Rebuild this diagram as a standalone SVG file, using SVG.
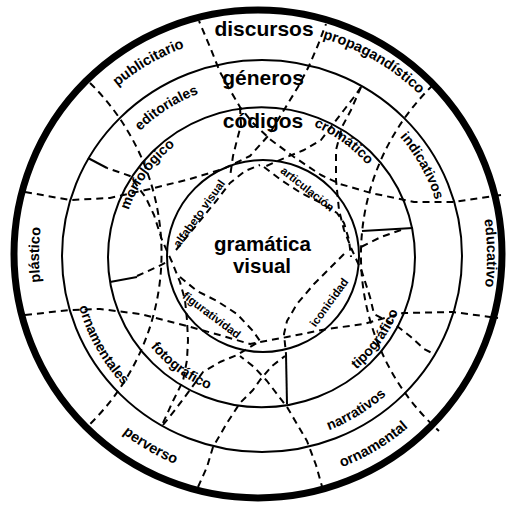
<svg xmlns="http://www.w3.org/2000/svg" width="509" height="507" viewBox="0 0 509 507">
<style>
.c{fill:none;stroke:#000;stroke-width:2}
.d{fill:none;stroke:#000;stroke-width:2;stroke-dasharray:7 5;stroke-linejoin:round}
.s{fill:none;stroke:#000;stroke-width:2}
.t{font-family:"Liberation Sans",Arial,Helvetica,sans-serif;font-weight:bold;fill:#000}
.big{font-size:21px;text-anchor:middle}
.m{font-size:14px}
.o{font-size:14.5px}
.n{font-size:11.5px;text-anchor:middle}
</style>
<defs>
<path id="cw222" d="M39,256 A222,222 0 1 1 483,256 A222,222 0 1 1 39,256"/>
<path id="cw226" d="M35,256 A226,226 0 1 1 487,256 A226,226 0 1 1 35,256"/>
<path id="cw174" d="M87,256 A174,174 0 1 1 435,256 A174,174 0 1 1 87,256"/>
<path id="cw183" d="M78,256 A183,183 0 1 1 444,256 A183,183 0 1 1 78,256"/>
<path id="cw140" d="M121,256 A140,140 0 1 1 401,256 A140,140 0 1 1 121,256"/>
<path id="ccw225" d="M36,256 A225,225 0 1 0 486,256 A225,225 0 1 0 36,256"/>
<path id="ccw226" d="M35,256 A226,226 0 1 0 487,256 A226,226 0 1 0 35,256"/>
<path id="ccw189" d="M72,256 A189,189 0 1 0 450,256 A189,189 0 1 0 72,256"/>
<path id="ccw187" d="M74,256 A187,187 0 1 0 448,256 A187,187 0 1 0 74,256"/>
<path id="ccw148" d="M113,256 A148,148 0 1 0 409,256 A148,148 0 1 0 113,256"/>
<path id="ccw143" d="M118,256 A143,143 0 1 0 404,256 A143,143 0 1 0 118,256"/>
</defs>
<rect width="509" height="507" fill="#fff"/>
<g id="rings">
<circle cx="258" cy="254" r="244" fill="none" stroke="#000" stroke-width="7"/>
<ellipse class="c" cx="262" cy="256" rx="200" ry="196"/>
<ellipse class="c" cx="261.5" cy="257.3" rx="153.5" ry="150"/>
<circle class="c" cx="263" cy="256" r="96"/>
</g>
<g id="connectors">
<path class="d" d="M25,192 L70,200 L110,198 L150,189 L190,179 L223,169 L250,156 L268,136 L284,110 L298,87 L309,66 L318,45 L326,24"/>
<path class="d" d="M501,195 L454,202 L414,202 L371,193 L340,184 L321,175 L294,157 L271,140 L252,122 L240,107 L230,90 L220,72 L210,47 L199,21"/>
<path class="d" d="M25,315 L70,310 L100,309 L140,314 L187,326 L223,336 L250,344 L287,337 L327,329 L364,324 L381,319 L403,313 L453,312 L498,318"/>
<path class="d" d="M198,487 L207,467 L213,447 L227,423 L240,403 L253,390 L260,380 L272,366 L285,356"/>
<path class="d" d="M323,490 L316,465 L307,441 L297,424 L287,407 L277,394 L267,381 L254,367 L240,356"/>
<path class="d" d="M90,83 A239,239 0 0 1 88,426"/>
<path class="d" d="M433,85 A237,237 0 0 0 439,431"/>
<path class="d" d="M361,87 L351,110 L342,127 L336,150 L336,180 L339,210 L344,230 L352,250 L362,272 L370,297 L374,314 L397,326 L411,337 L424,349 L434,354"/>
<path class="d" d="M163,423 L173,401 L183,381 L187,360 L188,340 L187,320 L185,300 L180,282 L172,262 L162,240 L154,215 L146,198 L130,176 L107,168"/>
<path class="d" d="M361,87 L354,97 L344,110 L334,123 L321,140 L304,150 L287,157 L264,167"/>
<path class="d" d="M163,425 L175,410 L190,390 L203,372 L220,362 L237,355 L260,341"/>
<path class="d" d="M240,107 L241,125 L237,140 L233,156 L230,177"/>
<path class="s" d="M88,158 L107,168"/>
<path class="s" d="M413,228 L362,231"/>
<path class="s" d="M110,282 L137,277"/>
<path class="s" d="M287,404 L286,354"/>
<path class="d" d="M401,230 L381,237 L361,247"/>
<path class="d" d="M137,276 L157,267 L167,262"/>
<path class="d" d="M176,250 L190,233 L203,217 L217,200 L230,183 L245,171 L260,165"/>
<path class="d" d="M264,167 L281,180 L301,193 L321,203 L337,213 L344,223 L349,240 L351,257"/>
<path class="d" d="M344,254 L331,267 L314,284 L297,304 L287,321 L284,334 L286,354"/>
<path class="d" d="M180,277 L197,291 L217,301 L237,314 L253,331 L260,341"/>
</g>
<g id="titles" class="t big">
<text x="264" y="36">discursos</text>
<text x="263" y="85">géneros</text>
<text x="263" y="128">códigos</text>
<text x="262.5" y="250.5" style="font-size:20.5px">gramática</text>
<text x="262" y="272.5" style="font-size:20.5px">visual</text>
</g>
<g id="outer-labels" class="t o">
<text id="publicitario" transform="rotate(-30.2 261 256)"><textPath href="#cw222" startOffset="25%" text-anchor="middle">publicitario</textPath></text>
<text id="propagandistico" transform="rotate(30.1 261 256)"><textPath href="#cw226" startOffset="25%" text-anchor="middle">propagandístico</textPath></text>
<text id="educativo" transform="rotate(89.25 261 256)"><textPath href="#cw226" startOffset="25%" text-anchor="middle">educativo</textPath></text>
<text id="plastico" transform="rotate(270.3 261 256)"><textPath href="#cw222" startOffset="25%" text-anchor="middle">plástico</textPath></text>
<text id="perverso" transform="rotate(30.2 261 256)"><textPath href="#ccw225" startOffset="25%" text-anchor="middle">perverso</textPath></text>
<text id="ornamental" transform="rotate(-30.8 261 256)"><textPath href="#ccw226" startOffset="25%" text-anchor="middle">ornamental</textPath></text>
</g>
<g id="ring2-labels" class="t m">
<text id="editoriales" transform="rotate(-32.5 261 256)"><textPath href="#cw174" startOffset="25%" text-anchor="middle">editoriales</textPath></text>
<text id="indicativos" transform="rotate(60.8 261 256)"><textPath href="#cw183" startOffset="25%" text-anchor="middle">indicativos</textPath></text>
<text id="ornamentales" transform="rotate(60.6 261 256)"><textPath href="#ccw189" startOffset="25%" text-anchor="middle">ornamentales</textPath></text>
<text id="narrativos" transform="rotate(-31.7 261 256)"><textPath href="#ccw187" startOffset="25%" text-anchor="middle">narrativos</textPath></text>
</g>
<g id="ring3-labels" class="t m">
<text id="morfologico" transform="rotate(-54.4 261 256)"><textPath href="#cw140" startOffset="25%" text-anchor="middle">morfológico</textPath></text>
<text id="cromatico" transform="rotate(35.8 261 256)"><textPath href="#cw140" startOffset="25%" text-anchor="middle">cromático</textPath></text>
<text id="tipografico" transform="rotate(-54 261 256)"><textPath href="#ccw148" startOffset="25%" text-anchor="middle">tipográfico</textPath></text>
<text id="fotografico" transform="rotate(36 261 256)"><textPath href="#ccw143" startOffset="25%" text-anchor="middle">fotográfico</textPath></text>
</g>
<g id="inner-labels" class="t n">
<text transform="translate(202.3 215.8) rotate(-54.4)">alfabeto visual</text>
<text transform="translate(305 192) rotate(38.4)">articulación</text>
<text transform="translate(332.2 304.8) rotate(-54.1)">iconicidad</text>
<text transform="translate(209.4 318.3) rotate(37)">figuratividad</text>
</g>
</svg>
